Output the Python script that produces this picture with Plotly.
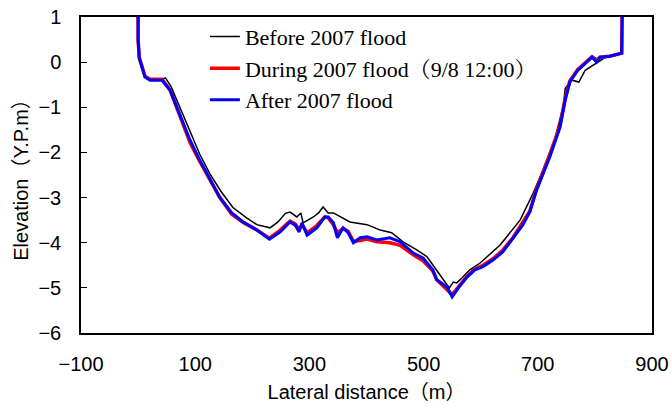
import plotly.graph_objects as go

x_before = [0, 0, 1, 12, 21, 42, 48, 58, 76, 92, 108, 126, 145, 166, 190, 208, 231, 245, 258, 266, 278, 285, 289, 307, 316, 324, 333, 342, 354, 371, 401, 424, 444, 464, 488, 506, 520, 532, 545, 552, 558, 567, 581, 599, 634, 669, 692, 709, 730, 745, 748, 760, 772, 783, 797, 809, 821, 847, 848]
y_before = [1.5, 0.3, 0.1, -0.33, -0.38, -0.38, -0.35, -0.55, -1.08, -1.58, -2.04, -2.48, -2.86, -3.22, -3.45, -3.6, -3.67, -3.54, -3.35, -3.32, -3.43, -3.34, -3.56, -3.43, -3.34, -3.21, -3.34, -3.34, -3.43, -3.54, -3.6, -3.72, -3.78, -3.98, -4.16, -4.31, -4.56, -4.78, -5.0, -4.87, -4.89, -4.78, -4.6, -4.45, -4.05, -3.5, -2.9, -2.39, -1.7, -0.95, -0.58, -0.4, -0.44, -0.18, -0.07, 0.04, 0.13, 0.2, 1.5]

x_during = [0, 0, 2, 12, 21, 42, 56, 77, 91, 108, 126, 143, 164, 184, 208, 230, 249, 266, 275, 282, 287, 296, 313, 327, 333, 342, 349, 359, 368, 377, 389, 401, 418, 441, 459, 482, 499, 516, 523, 541, 550, 561, 576, 590, 604, 622, 639, 657, 674, 686, 698, 721, 739, 748, 756, 770, 795, 803, 809, 826, 847, 848]
y_during = [1.5, 0.5, 0.1, -0.31, -0.38, -0.38, -0.62, -1.3, -1.78, -2.2, -2.6, -3.0, -3.37, -3.55, -3.72, -3.9, -3.72, -3.52, -3.58, -3.7, -3.6, -3.78, -3.62, -3.43, -3.45, -3.6, -3.78, -3.68, -3.75, -3.97, -3.95, -3.92, -3.98, -4.0, -4.06, -4.27, -4.4, -4.62, -4.82, -5.04, -5.15, -4.98, -4.74, -4.58, -4.5, -4.35, -4.16, -3.88, -3.55, -3.3, -2.8, -2.05, -1.4, -0.8, -0.42, -0.16, 0.12, 0.05, 0.11, 0.13, 0.2, 1.5]

x_after = [0, 0, 2, 12, 21, 42, 56, 77, 91, 108, 126, 143, 164, 184, 208, 230, 249, 266, 275, 282, 287, 296, 313, 327, 333, 342, 349, 359, 368, 377, 389, 401, 418, 441, 459, 482, 499, 516, 523, 541, 550, 561, 576, 590, 604, 622, 639, 657, 674, 686, 698, 721, 739, 748, 756, 770, 795, 803, 809, 826, 847, 848]
y_after = [1.5, 0.5, 0.1, -0.33, -0.40, -0.40, -0.62, -1.28, -1.73, -2.17, -2.61, -2.99, -3.34, -3.54, -3.72, -3.92, -3.76, -3.54, -3.61, -3.76, -3.56, -3.83, -3.67, -3.43, -3.43, -3.56, -3.89, -3.67, -3.78, -4.0, -3.89, -3.87, -3.94, -3.89, -3.98, -4.23, -4.34, -4.6, -4.82, -4.98, -5.2, -5.0, -4.76, -4.6, -4.53, -4.38, -4.2, -3.9, -3.6, -3.32, -2.83, -2.1, -1.44, -0.84, -0.44, -0.18, 0.11, 0.0, 0.11, 0.13, 0.2, 1.5]

x_ticks = [-100, 100, 300, 500, 700, 900]
y_ticks = [1, 0, -1, -2, -3, -4, -5, -6]

names = ["Before 2007 flood", "During 2007 flood（9/8 12:00）", "After 2007 flood"]

fig = go.Figure()
fig.add_trace(go.Scatter(x=x_before, y=y_before, mode="lines", name=names[0],
                         line=dict(color="black", width=1.5)))
fig.add_trace(go.Scatter(x=x_during, y=y_during, mode="lines", name=names[1],
                         line=dict(color="#ff0000", width=3.5)))
fig.add_trace(go.Scatter(x=x_after, y=y_after, mode="lines", name=names[2],
                         line=dict(color="#0000ff", width=3)))

tick_font = dict(family="Liberation Sans, Noto Sans CJK JP", size=20, color="black")
title_font = dict(family="Liberation Sans, Noto Sans CJK JP", size=20, color="black")

fig.update_layout(
    width=671, height=406,
    margin=dict(l=81, r=19, t=17, b=73, autoexpand=False),
    plot_bgcolor="white", paper_bgcolor="white",
    showlegend=True,
    legend=dict(x=0.217, y=1.004, xanchor="left", yanchor="top",
                font=dict(family="Liberation Serif, Times New Roman, Noto Serif CJK JP", size=22, color="black"),
                bgcolor="rgba(0,0,0,0)", tracegroupgap=0, itemwidth=30),
)
fig.update_xaxes(range=[-100, 900], tickvals=x_ticks, ticktext=[str(v).replace("-", "−") for v in x_ticks],
                 showgrid=False, zeroline=False, showline=True, linecolor="black", linewidth=1.5,
                 mirror=True, ticks="", tickfont=tick_font, ticklabelstandoff=12, automargin=False,
                 title=dict(text="Lateral distance（m）", font=title_font, standoff=11))
fig.update_yaxes(range=[-6, 1], tickvals=y_ticks, ticktext=[str(v).replace("-", "−") for v in y_ticks],
                 showgrid=False, zeroline=False, showline=True, linecolor="black", linewidth=1.5,
                 mirror=True, ticks="inside", ticklen=6, tickcolor="black", tickfont=tick_font,
                 ticklabelstandoff=14, automargin=False,
                 title=dict(text="Elevation（Y.P.m）", font=title_font, standoff=4))

fig.write_html("out.html")
